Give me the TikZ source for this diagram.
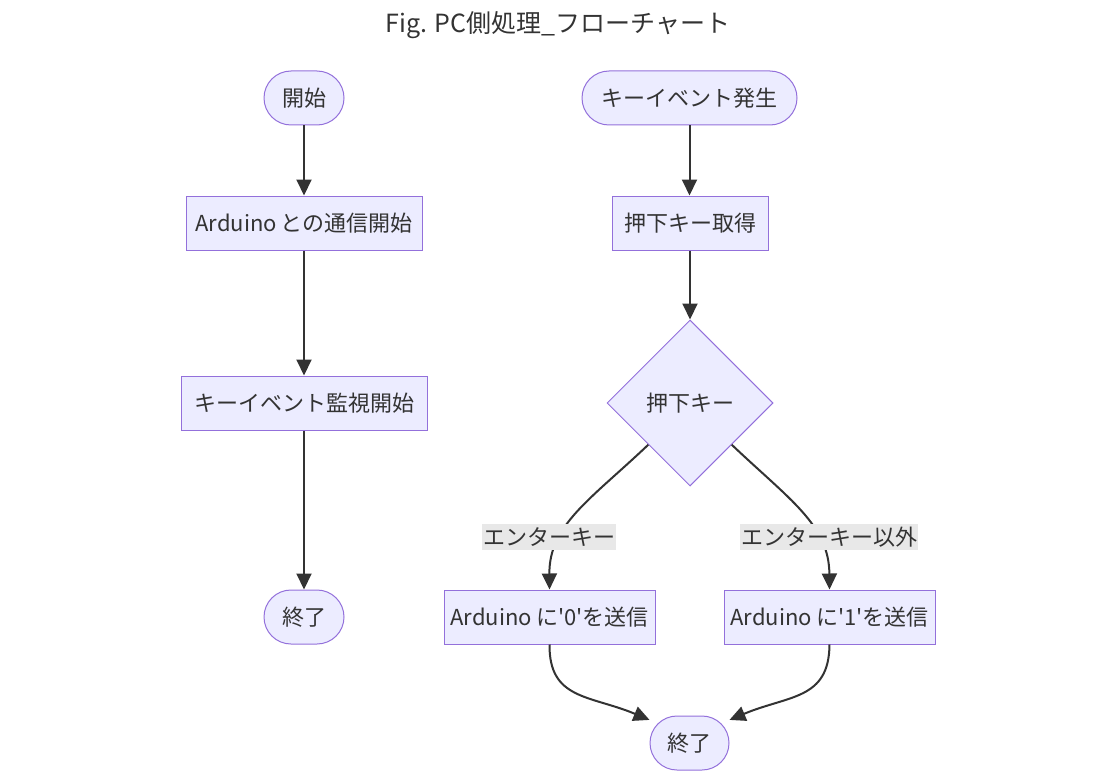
\documentclass[tikz,border=0pt]{standalone}
\usepackage{fontspec}
\setmainfont{Noto Sans CJK JP}
\newfontfamily\plainqf{Noto Sans CJK JP}[Ligatures=ResetAll]
\usetikzlibrary{shapes.geometric,arrows.meta}
\definecolor{nfill}{HTML}{ECECFF}
\definecolor{nstroke}{HTML}{9370DB}
\definecolor{ntext}{HTML}{333333}
\definecolor{lblbg}{HTML}{E8E8E8}
\newcommand{\sq}{{\plainqf '}}
\tikzset{
  base/.style={draw=nstroke, fill=nfill, text=ntext, line width=1pt, inner sep=0pt, font=\fontsize{22}{26}\selectfont},
  term/.style={base, rounded corners=27pt, minimum height=54pt},
  proc/.style={base, rectangle, minimum height=54pt},
  dec/.style={base, diamond, minimum width=166pt, minimum height=166pt},
  lbl/.style={fill=lblbg, text=ntext, inner sep=1pt, minimum height=26pt, font=\fontsize{22}{26}\selectfont},
  edge/.style={draw=ntext, line width=2pt, -{Triangle[length=16pt,width=15pt]}},
}
\begin{document}
\begin{tikzpicture}[x=1pt,y=-1pt]
\useasboundingbox (0,0) rectangle (1116,781);
\node[text=ntext, font=\fontsize{25}{30}\selectfont] (title) at (558,25) {Fig. PC側処理\_フローチャート};
% left
\node[term, minimum width=80pt] (s1) at (304,98) {開始};
\node[proc, minimum width=236pt] (p1) at (304,223) {Arduino\hspace{4pt}との通信開始};
\node[proc, minimum width=246pt] (p2) at (304,403) {キーイベント監視開始};
\node[term, minimum width=80pt] (e1) at (304,617) {終了};
% right
\node[term, minimum width=215pt] (s2) at (689.5,98) {キーイベント発生};
\node[proc, minimum width=156pt] (p3) at (690,223) {押下キー取得};
\node[dec] (d) at (690,403) {押下キー};
\node[proc, minimum width=211pt] (a0) at (549.5,617) {Arduino\hspace{4pt}に\sq0\sq を送信};
\node[proc, minimum width=211pt] (a1) at (829.5,617) {Arduino\hspace{4pt}に\sq1\sq を送信};
\node[term, minimum width=79pt] (e2) at (689.5,743) {終了};
% edges
\draw[edge] (s1) -- (p1);
\draw[edge] (p1) -- (p2);
\draw[edge] (p2) -- (e1);
\draw[edge] (s2.south) -- (s2.south |- p3.north);
\draw[edge] (p3) -- (d);
\draw[edge] (d.south west) .. controls (590,500) and (549,525) .. (a0.north);
\draw[edge] (d.south east) .. controls (790,500) and (829,525) .. (a1.north);
\draw[edge] (a0.south) .. controls (549,700) and (590,695) .. (e2.150);
\draw[edge] (a1.south) .. controls (829,700) and (789,695) .. (e2.30);
\node[lbl] (l0) at (549,537) {エンターキー};
\node[lbl] (l1) at (829,537) {エンターキー以外};
\end{tikzpicture}
\end{document}
